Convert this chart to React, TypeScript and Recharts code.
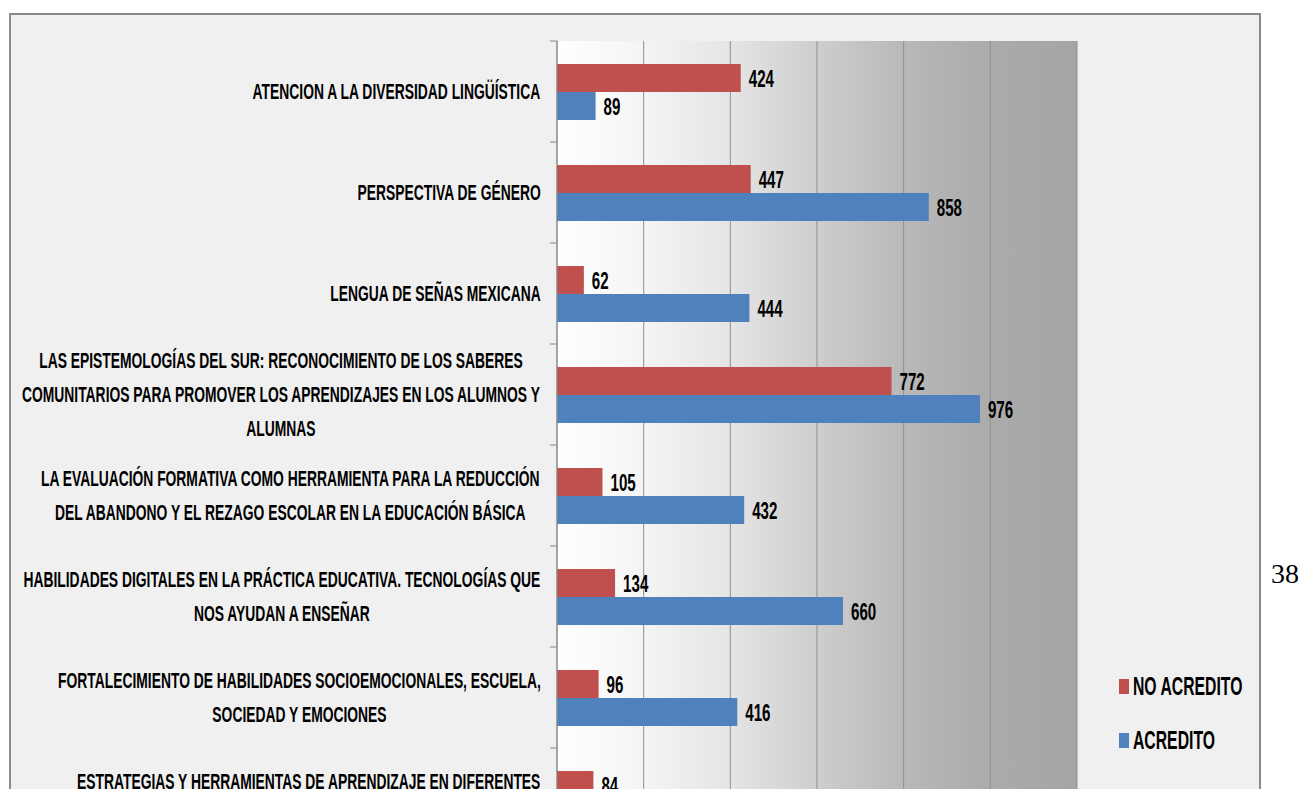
import React from "react";
import { BarChart, Bar, XAxis, YAxis, CartesianGrid, LabelList } from "recharts";

// ---- data ----
const CATEGORIES: string[] = [
  "ATENCION A LA DIVERSIDAD LINGÜÍSTICA",
  "PERSPECTIVA DE GÉNERO",
  "LENGUA DE SEÑAS MEXICANA",
  "LAS EPISTEMOLOGÍAS DEL SUR: RECONOCIMIENTO DE LOS SABERES\nCOMUNITARIOS PARA PROMOVER LOS APRENDIZAJES EN LOS ALUMNOS Y\nALUMNAS",
  "LA EVALUACIÓN FORMATIVA COMO HERRAMIENTA PARA LA REDUCCIÓN\nDEL ABANDONO Y EL REZAGO ESCOLAR EN LA EDUCACIÓN BÁSICA",
  "HABILIDADES DIGITALES EN LA PRÁCTICA EDUCATIVA. TECNOLOGÍAS QUE\nNOS AYUDAN A ENSEÑAR",
  "FORTALECIMIENTO DE HABILIDADES SOCIOEMOCIONALES, ESCUELA,\nSOCIEDAD Y EMOCIONES",
  "ESTRATEGIAS Y HERRAMIENTAS DE APRENDIZAJE EN DIFERENTES\nCONTEXTOS",
];
const NO_ACREDITO: number[] = [424, 447, 62, 772, 105, 134, 96, 84];
const ACREDITO: number[] = [89, 858, 444, 976, 432, 660, 416, 310];
const X_TICKS: number[] = [0, 200, 400, 600, 800, 1000, 1200];
const SERIES_NAMES = { no: "NO ACREDITO", yes: "ACREDITO" };
const PAGE_NUMBER = "38";

const data = CATEGORIES.map((name, i) => ({
  name,
  noAcredito: NO_ACREDITO[i],
  acredito: ACREDITO[i],
}));

// ---- styling / layout ----
const RED = "#c0504d";
const BLUE = "#4f81bd";
const FONT = "'Liberation Sans', Arial, sans-serif";
const SX = 0.63;
const CAT_FS = 22;
const VAL_FS = 24;
const LEG_FS = 25;
const LINE_H = 34;
const CHART_W = 1303;
const MARGIN = { top: 41, right: 226, left: 8, bottom: 5 };
const BAND = 101;
const PLOT_H = BAND * CATEGORIES.length;
const CHART_H = MARGIN.top + PLOT_H + 30 + MARGIN.bottom;
const AXIS_X = 557;
const LABEL_RIGHT = 541;
const AXIS_COLOR = "#868686";

let measureCtx: CanvasRenderingContext2D | null = null;
function measure(s: string): number {
  if (!measureCtx && typeof document !== "undefined") {
    measureCtx = document.createElement("canvas").getContext("2d");
  }
  if (!measureCtx) return s.length * CAT_FS * 0.65;
  measureCtx.font = `bold ${CAT_FS}px 'Liberation Sans'`;
  return measureCtx.measureText(s).width;
}

function CategoryTick(props: any) {
  const { y, payload, index } = props;
  const lines = String(payload.value).split("\n");
  const boxW = Math.max(...lines.map((l) => measure(l) * SX));
  const cx = LABEL_RIGHT - boxW / 2;
  const n = lines.length;
  return (
    <g>
      {lines.map((l, i) => (
        <text
          key={i}
          transform={`translate(${cx},${y + (i - (n - 1) / 2) * LINE_H}) scale(${SX},1)`}
          textAnchor="middle"
          dy="0.36em"
          fontFamily={FONT}
          fontWeight={700}
          fontSize={CAT_FS}
          fill="#000"
        >
          {l}
        </text>
      ))}
      <line x1={AXIS_X - 7} x2={AXIS_X} y1={y - BAND / 2} y2={y - BAND / 2} stroke={AXIS_COLOR} />
      {index === CATEGORIES.length - 1 && (
        <line x1={AXIS_X - 7} x2={AXIS_X} y1={y + BAND / 2} y2={y + BAND / 2} stroke={AXIS_COLOR} />
      )}
    </g>
  );
}

function ValueLabel(props: any) {
  const { x, y, width, height, value } = props;
  return (
    <text
      transform={`translate(${Number(x) + Number(width) + 8},${Number(y) + Number(height) / 2}) scale(${SX},1)`}
      dy="0.36em"
      fontFamily={FONT}
      fontWeight={700}
      fontSize={VAL_FS}
      fill="#000"
    >
      {value}
    </text>
  );
}

function LegendBox() {
  const items = [
    { name: SERIES_NAMES.no, color: RED },
    { name: SERIES_NAMES.yes, color: BLUE },
  ];
  return (
    <div style={{ position: "absolute", left: 1119, top: 672, width: 180 }}>
      {items.map((it, i) => (
        <div
          key={i}
          style={{ display: "flex", alignItems: "center", height: 28, marginBottom: i === 0 ? 26 : 0 }}
        >
          <span
            style={{ display: "inline-block", flex: "0 0 10px", width: 10, height: 15, background: it.color, marginRight: 4 }}
          />
          <span
            style={{
              display: "inline-block",
              flex: "0 0 auto",
              fontFamily: FONT,
              fontWeight: 700,
              fontSize: LEG_FS,
              lineHeight: "28px",
              whiteSpace: "nowrap",
              transform: `scaleX(${SX})`,
              transformOrigin: "left center",
              color: "#000",
            }}
          >
            {it.name}
          </span>
        </div>
      ))}
    </div>
  );
}

function verticalGen(props: any): number[] {
  const xAxis = props && props.xAxis;
  if (xAxis && typeof xAxis.scale === "function") {
    return X_TICKS.map((t) => xAxis.scale(t));
  }
  const off = props && props.offset;
  if (off) {
    return X_TICKS.map((t) => off.left + (t / X_TICKS[X_TICKS.length - 1]) * off.width);
  }
  return [];
}

export default function App() {
  return (
    <div style={{ position: "absolute", left: 0, top: 0, width: 1303, height: 789, overflow: "hidden", background: "#fff" }}>
      <div
        style={{
          position: "absolute",
          left: 9,
          top: 13,
          width: 1252,
          height: 1000,
          boxSizing: "border-box",
          border: "2px solid #8a8a8a",
          background: "#f0f0f0",
        }}
      />
      <div
        style={{
          position: "absolute",
          left: 1271,
          top: 558,
          fontFamily: "'Liberation Serif', 'Times New Roman', serif",
          fontSize: 28,
          lineHeight: "32px",
          color: "#000",
        }}
      >
        {PAGE_NUMBER}
      </div>
      <div style={{ position: "absolute", left: 0, top: 0 }}>
        <BarChart
          width={CHART_W}
          height={CHART_H}
          data={data}
          layout="vertical"
          margin={MARGIN}
          barGap={0}
          barSize={28}
        >
          <defs>
            <linearGradient id="plotGrad" x1="0" y1="0" x2="1" y2="0">
              <stop offset="0" stopColor="#ffffff" />
              <stop offset="0.17" stopColor="#f4f4f4" />
              <stop offset="0.33" stopColor="#e5e5e5" />
              <stop offset="0.5" stopColor="#cecece" />
              <stop offset="0.67" stopColor="#b8b8b8" />
              <stop offset="0.83" stopColor="#ababab" />
              <stop offset="1" stopColor="#a5a5a5" />
            </linearGradient>
          </defs>
          <CartesianGrid
            horizontal={false}
            stroke="#8f8f8f"
            fill="url(#plotGrad)"
            fillOpacity={1}
            verticalCoordinatesGenerator={verticalGen}
          />
          <XAxis
            type="number"
            domain={[0, 1200]}
            ticks={X_TICKS}
            axisLine={{ stroke: AXIS_COLOR }}
            tickLine={false}
            tick={false}
            height={30}
          />
          <YAxis
            type="category"
            dataKey="name"
            width={549}
            interval={0}
            tickLine={false}
            axisLine={{ stroke: AXIS_COLOR }}
            tick={<CategoryTick />}
          />
          <Bar dataKey="noAcredito" name={SERIES_NAMES.no} fill={RED} isAnimationActive={false}>
            <LabelList dataKey="noAcredito" content={<ValueLabel />} />
          </Bar>
          <Bar dataKey="acredito" name={SERIES_NAMES.yes} fill={BLUE} isAnimationActive={false}>
            <LabelList dataKey="acredito" content={<ValueLabel />} />
          </Bar>
        </BarChart>
      </div>
      <LegendBox />
    </div>
  );
}
